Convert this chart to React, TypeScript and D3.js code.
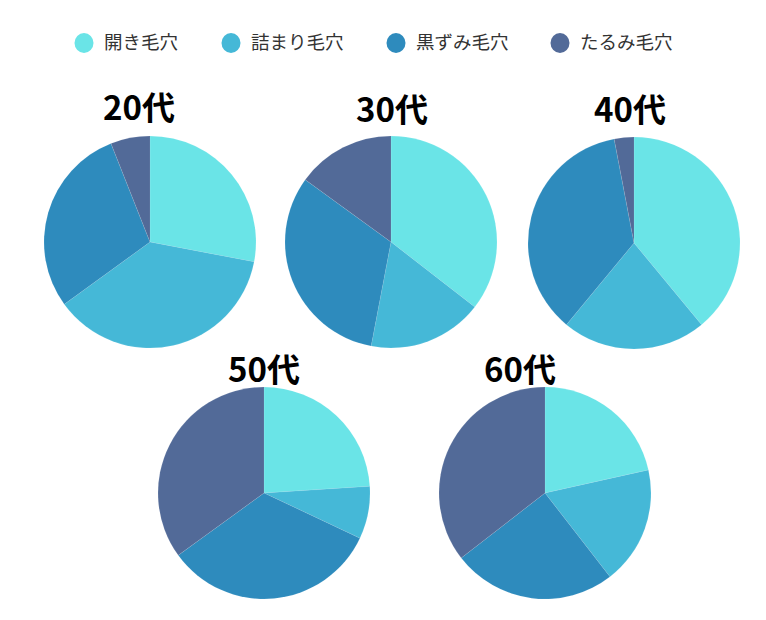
import * as d3 from "d3";

const categories = ["開き毛穴", "詰まり毛穴", "黒ずみ毛穴", "たるみ毛穴"];
const colors = ["#6ae4e7", "#45b8d7", "#2e8bbd", "#526a98"];

const ageGroups = ["20代", "30代", "40代", "50代", "60代"];
const values20 = [28, 37, 29, 6];
const values30 = [35.5, 17.5, 32, 15];
const values40 = [39, 22, 36, 3];
const values50 = [24, 8, 33, 35];
const values60 = [21.5, 18, 25, 35.5];
const seriesByAge = [values20, values30, values40, values50, values60];

const width = 766;
const height = 620;
const radius = 106;

// pie centres and title x-offsets
const layout = [
  { cx: 150, cy: 242, titleDx: -11, titleY: 120 },
  { cx: 391, cy: 242, titleDx: 1, titleY: 122 },
  { cx: 634, cy: 243, titleDx: -4, titleY: 122 },
  { cx: 264, cy: 493, titleDx: 0, titleY: 382 },
  { cx: 545, cy: 493, titleDx: -25, titleY: 382 },
];

const legendX = [84, 231, 396, 560];
const legendY = 43;

const color = d3.scaleOrdinal<string, string>().domain(categories).range(colors);

const pie = d3
  .pie<number>()
  .sort(null)
  .value((d) => d);

const arc = d3
  .arc<d3.PieArcDatum<number>>()
  .innerRadius(0)
  .outerRadius(radius);

const font = "'Noto Sans CJK JP', 'Noto Sans', sans-serif";

export default function App() {
  return (
    <div style={{ position: "fixed", left: 0, top: 0 }}>
      <svg width={width} height={height} style={{ display: "block", background: "#fff" }}>
        {/* legend */}
        <g>
          {categories.map((c, i) => (
            <g key={c} transform={`translate(${legendX[i]},${legendY})`}>
              <ellipse rx={9.5} ry={10} fill={color(c)} />
              <text
                x={20}
                y={0}
                dy="0.35em"
                fontSize={18.5}
                fill="#333"
                fontFamily={font}
              >
                {c}
              </text>
            </g>
          ))}
        </g>
        {ageGroups.map((age, k) => {
          const pos = layout[k];
          const arcs = pie(seriesByAge[k]);
          return (
            <g key={age}>
              <g transform={`translate(${pos.cx},${pos.cy})`}>
                {arcs.map((a, i) => (
                  <path
                    key={i}
                    d={arc(a) || ""}
                    fill={color(categories[i])}
                    stroke="#ffffff"
                    strokeOpacity={0.15}
                    strokeWidth={0.6}
                  />
                ))}
              </g>
              <text
                x={pos.cx + pos.titleDx}
                y={pos.titleY}
                textAnchor="middle"
                fontSize={33}
                fontWeight={700}
                fill="#000"
                fontFamily={font}
              >
                {age}
              </text>
            </g>
          );
        })}
      </svg>
    </div>
  );
}
